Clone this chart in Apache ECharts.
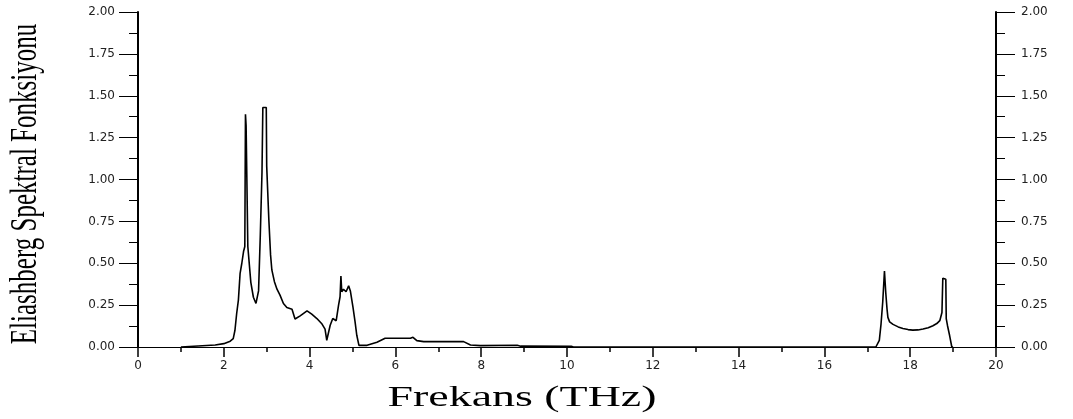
<!DOCTYPE html>
<html>
<head>
<meta charset="utf-8">
<script src="https://cdn.jsdelivr.net/npm/echarts@6/dist/echarts.min.js"></script>
<style>
html,body{margin:0;padding:0;background:#ffffff;}
#chart{width:1073px;height:419px;}
</style>
</head>
<body>
<div id="chart"></div>
<script>
// ---- data ----
const freqTHz = [
  1.0, 1.4, 1.8, 2.0, 2.15, 2.22, 2.26, 2.30, 2.34, 2.38, 2.42, 2.46, 2.49,
  2.505, 2.52, 2.545, 2.56, 2.59, 2.63, 2.69, 2.75, 2.81, 2.85, 2.89, 2.905,
  2.91, 2.99, 3.0, 3.04, 3.05, 3.08, 3.09, 3.12, 3.18, 3.24, 3.31, 3.39, 3.47,
  3.59, 3.66, 3.78, 3.94, 4.05, 4.17, 4.29, 4.36, 4.40, 4.42, 4.48, 4.54, 4.62,
  4.675, 4.71, 4.73, 4.75, 4.79, 4.85, 4.91, 4.95, 5.01, 5.06, 5.10, 5.15, 5.17,
  5.34, 5.57, 5.76, 6.35, 6.41, 6.50, 6.66, 7.59, 7.75, 7.98, 8.84, 8.92, 10.1,
  10.15, 17.2,
  17.24, 17.28, 17.32, 17.36, 17.40, 17.43, 17.46, 17.48, 17.52, 17.60, 17.72,
  17.83, 17.95, 18.06, 18.18, 18.30, 18.42, 18.53, 18.62, 18.69, 18.74, 18.76,
  18.83, 18.84, 18.87, 18.92, 18.97, 19.0
];
const spectralValue = [
  0.0, 0.006, 0.012, 0.02, 0.035, 0.05, 0.10, 0.20, 0.28, 0.44, 0.50, 0.57, 0.60,
  1.39, 1.32, 1.32, 0.60, 0.60, 0.386, 0.297, 0.26, 0.335, 0.66, 1.04, 1.04,
  1.43, 1.43, 1.08, 1.08, 0.76, 0.76, 0.55, 0.46, 0.39, 0.345, 0.31, 0.26, 0.236,
  0.226, 0.167, 0.186, 0.216, 0.196, 0.17, 0.137, 0.107, 0.04, 0.035, 0.13, 0.17, 0.157,
  0.25, 0.30, 0.424, 0.33, 0.345, 0.33, 0.365, 0.335, 0.24, 0.15, 0.07, 0.01, 0.0,
  0.01, 0.028, 0.052, 0.052, 0.058, 0.038, 0.032, 0.032, 0.012, 0.008, 0.01, 0.005, 0.004,
  0.0, 0.0,
  0.008, 0.04, 0.137, 0.27, 0.454, 0.325, 0.226, 0.177, 0.15, 0.135, 0.12,
  0.111, 0.104, 0.101, 0.102, 0.107, 0.115, 0.127, 0.14, 0.157, 0.206, 0.41,
  0.405, 0.17, 0.127, 0.067, 0.0, 0.0
];
const xTickLabels = ['0','2','4','6','8','10','12','14','16','18','20'];
const yTickLabels = ['0.00','0.25','0.50','0.75','1.00','1.25','1.50','1.75','2.00'];
const xTitle = 'Frekans (THz)';
const yTitle = 'Eliashberg Spektral Fonksiyonu';

const points = freqTHz.map((f, i) => [f, spectralValue[i]]);

const chart = echarts.init(document.getElementById('chart'), null, {renderer: 'canvas'});

function yAxisCfg(pos, margin) {
  return {
    type: 'value', position: pos, min: 0, max: 2, interval: 0.25,
    axisLine: {show: true, lineStyle: {color: '#000', width: 2}},
    axisTick: {show: true, length: 19, lineStyle: {color: '#000', width: 1}},
    minorTick: {show: true, splitNumber: 2, length: 9, lineStyle: {color: '#000', width: 1}},
    splitLine: {show: false},
    minorSplitLine: {show: false},
    axisLabel: {
      margin: margin, color: '#222', fontFamily: 'DejaVu Sans', fontSize: 12,
      formatter: v => yTickLabels[Math.round(v / 0.25)]
    }
  };
}

chart.setOption({
  animation: false,
  backgroundColor: '#ffffff',
  grid: {left: 138, right: 77, top: 12, bottom: 72, containLabel: false},
  xAxis: {
    type: 'value', min: 0, max: 20, interval: 2,
    axisLine: {show: true, onZero: false, lineStyle: {color: '#000', width: 1}},
    axisTick: {show: true, length: 10, lineStyle: {color: '#000', width: 1.5}},
    minorTick: {show: true, splitNumber: 2, length: 5, lineStyle: {color: '#000', width: 1.5}},
    splitLine: {show: false},
    minorSplitLine: {show: false},
    axisLabel: {
      margin: 13, color: '#222', fontFamily: 'DejaVu Sans', fontSize: 12,
      formatter: v => xTickLabels[Math.round(v / 2)]
    }
  },
  yAxis: [yAxisCfg('left', 23), yAxisCfg('right', 25)],
  series: [{
    type: 'line',
    data: points,
    xAxisIndex: 0, yAxisIndex: 0,
    showSymbol: false,
    symbol: 'none',
    lineStyle: {color: '#000', width: 1.6},
    z: 3
  }],
  graphic: [
    {
      type: 'text', x: 26, y: 184, rotation: Math.PI / 2, scaleX: 1, scaleY: 1.55,
      style: {
        text: yTitle, fill: '#000',
        font: '25px "Liberation Serif"',
        align: 'center', verticalAlign: 'middle',
        textAlign: 'center', textVerticalAlign: 'middle'
      }
    },
    {
      type: 'text', x: 522, y: 398, scaleX: 1.53, scaleY: 1,
      style: {
        text: xTitle, fill: '#000',
        font: '30px "Liberation Serif"',
        align: 'center', verticalAlign: 'middle',
        textAlign: 'center', textVerticalAlign: 'middle'
      }
    }
  ]
});
</script>
</body>
</html>
